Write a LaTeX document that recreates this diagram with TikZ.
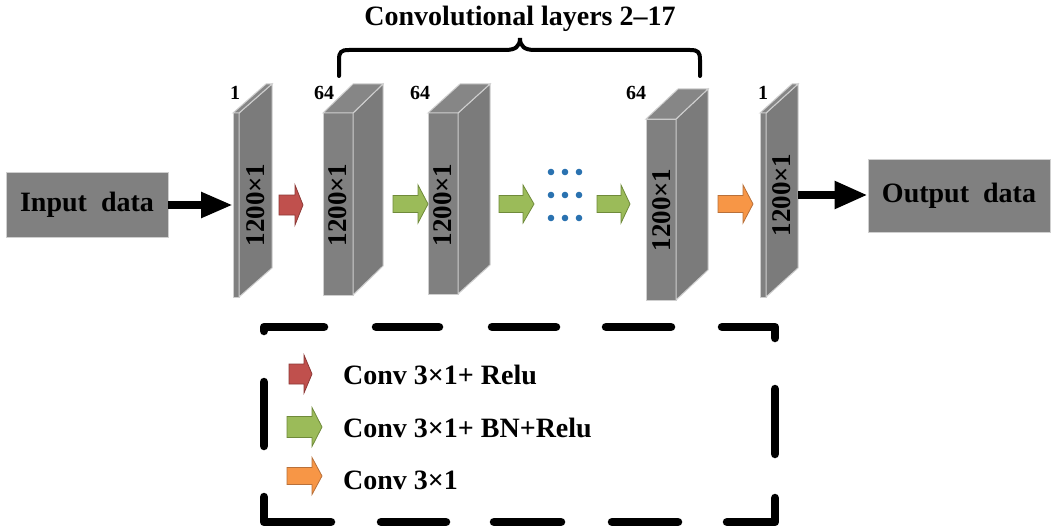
\documentclass[tikz,border=0pt]{standalone}
\usepackage{fontspec}
\setmainfont{Liberation Serif}
\usetikzlibrary{arrows.meta}
\definecolor{boxgray}{HTML}{808080}
\definecolor{edgegray}{HTML}{CFCFCF}
\definecolor{sidegray}{HTML}{7B7B7B}
\definecolor{topgray}{HTML}{868686}
\definecolor{redf}{HTML}{C0504D}
\definecolor{redd}{HTML}{8C3836}
\definecolor{greenf}{HTML}{9BBB59}
\definecolor{greend}{HTML}{6F8A3A}
\definecolor{orangef}{HTML}{F79646}
\definecolor{oranged}{HTML}{B8703A}
\definecolor{dotblue}{HTML}{2A72B0}
\newcommand\drawslab[6]{%
 \filldraw[slabface] (#1,#2) rectangle ++(#3,#4);
 \filldraw[slabside] (#1+#3,#2) -- ++(#5,-#6) -- ++(0,#4) -- ++(-#5,#6) -- cycle;
 \filldraw[slabtop] (#1,#2) -- ++(#5,-#6) -- ++(#3,0) -- ++(-#5,#6) -- cycle;
}
\newcommand\blkarrow[7]{%
 \filldraw[#7] (#1,#4-#5) -- (#2,#4-#5) -- (#2,#4-#6) -- (#3,#4) -- (#2,#4+#6) -- (#2,#4+#5) -- (#1,#4+#5) -- cycle;
}
\tikzset{
 bigtext/.style={font=\fontsize{28}{30}\selectfont\bfseries},
 numtext/.style={font=\fontsize{20}{22}\selectfont\bfseries, inner sep=0pt},
 dimlabel/.style={font=\fontsize{27}{29}\selectfont\bfseries, rotate=90, inner sep=0pt},
 databox/.style={fill=boxgray, draw=edgegray, line width=0.8pt, inner sep=0pt, bigtext},
 slabface/.style={fill=boxgray, draw=edgegray, line width=1pt},
 slabside/.style={fill=sidegray, draw=edgegray, line width=1pt},
 slabtop/.style={fill=topgray, draw=edgegray, line width=1pt},
 redarr/.style={fill=redf, draw=redd, line width=0.8pt},
 greenarr/.style={fill=greenf, draw=greend, line width=0.8pt},
 orangearr/.style={fill=orangef, draw=oranged, line width=0.8pt},
 framedash/.style={line width=8.5pt, line cap=round, line join=round},
 brace/.style={line width=4pt, line cap=round},
}
\begin{document}
\begin{tikzpicture}[x=1pt,y=-1pt]
\useasboundingbox (0,0) rectangle (1056,532);
% title and brace
\node[bigtext, inner sep=0pt] (title) at (520,19) {Convolutional layers 2–17};
\coordinate (brL) at (339,76);
\coordinate (brR) at (700,76);
\draw[brace] (brL) -- (339,60) .. controls (339,52) and (341,50) .. (349,50) -- (505,50)
  .. controls (515,50) and (520,47) .. (520,38)
  .. controls (520,47) and (525,50) .. (535,50) -- (690,50)
  .. controls (698,50) and (700,52) .. (700,60) -- (brR);
% input / output boxes
\node[databox, minimum width=162pt, minimum height=65pt] (in) at (87,204.5) {Input\ \ data};
\node[databox, minimum width=182pt, minimum height=73pt] (out) at (959,195.5) {Output\ \ data};
% slabs
\drawslab{233}{113}{6}{184}{33}{29}
\drawslab{323}{113}{30}{182}{30}{29}
\drawslab{428}{113}{30}{181}{32}{29}
\drawslab{646}{119}{30}{181}{32}{30}
\drawslab{760}{113}{6}{184}{32}{29}
\node[dimlabel] (l1) at (256,205) {1200×1};
\node[dimlabel] (l2) at (338,205) {1200×1};
\node[dimlabel] (l3) at (443,205) {1200×1};
\node[dimlabel] (l4) at (662,210) {1200×1};
\node[dimlabel] (l5) at (782,195) {1200×1};
\node[numtext] (n1) at (235,93) {1};
\node[numtext] (n2) at (324,93) {64};
\node[numtext] (n3) at (420,93) {64};
\node[numtext] (n4) at (636,93) {64};
\node[numtext] (n5) at (763,93) {1};
% input / output connectors
\coordinate (s1in) at (233,205);
\coordinate (s5out) at (798,195);
\draw[line width=8pt, -{Triangle[length=32pt, width=24pt]}] (in.east |- s1in) -- (s1in);
\draw[line width=8pt, -{Triangle[length=33pt, width=26pt]}] (s5out) -- (out.west |- s5out);
% operation arrows
\blkarrow{279}{295}{303}{205}{10}{20}{redarr}
\blkarrow{393}{418}{428}{204}{8.5}{19}{greenarr}
\blkarrow{499}{523}{534}{204}{8.5}{19}{greenarr}
\blkarrow{597}{621}{630}{204}{8.5}{19}{greenarr}
\blkarrow{718}{743}{753}{204}{8.5}{19}{orangearr}
% dots
\foreach \xx in {551,565,579}
  \foreach \yy in {172,195,218}
    \fill[dotblue] (\xx,\yy) circle (3.3);
% legend frame
\draw[framedash] (264,331) -- (264,327) -- (324,327);
\draw[framedash] (376,327) -- (439,327);
\draw[framedash] (492,327) -- (556,327);
\draw[framedash] (606,327) -- (671,327);
\draw[framedash] (722,327) -- (775,327) -- (775,338);
\draw[framedash] (775,389) -- (775,454);
\draw[framedash] (775,498) -- (775,522) -- (727,522);
\draw[framedash] (612,522) -- (678,522);
\draw[framedash] (494,522) -- (561,522);
\draw[framedash] (381,522) -- (446,522);
\draw[framedash] (331,522) -- (264,522) -- (264,497);
\draw[framedash] (264,382) -- (264,446);
% legend items
\blkarrow{289}{304}{312}{374}{10}{19}{redarr}
\blkarrow{287}{312}{322}{427}{10.5}{19.5}{greenarr}
\blkarrow{287}{312}{322}{476}{8.5}{18.5}{orangearr}
\node[bigtext, anchor=west, inner sep=0pt] (t1) at (343,375) {Conv 3×1+ Relu};
\node[bigtext, anchor=west, inner sep=0pt] (t2) at (343,428) {Conv 3×1+ BN+Relu};
\node[bigtext, anchor=west, inner sep=0pt] (t3) at (343,480) {Conv 3×1};
\end{tikzpicture}
\end{document}
